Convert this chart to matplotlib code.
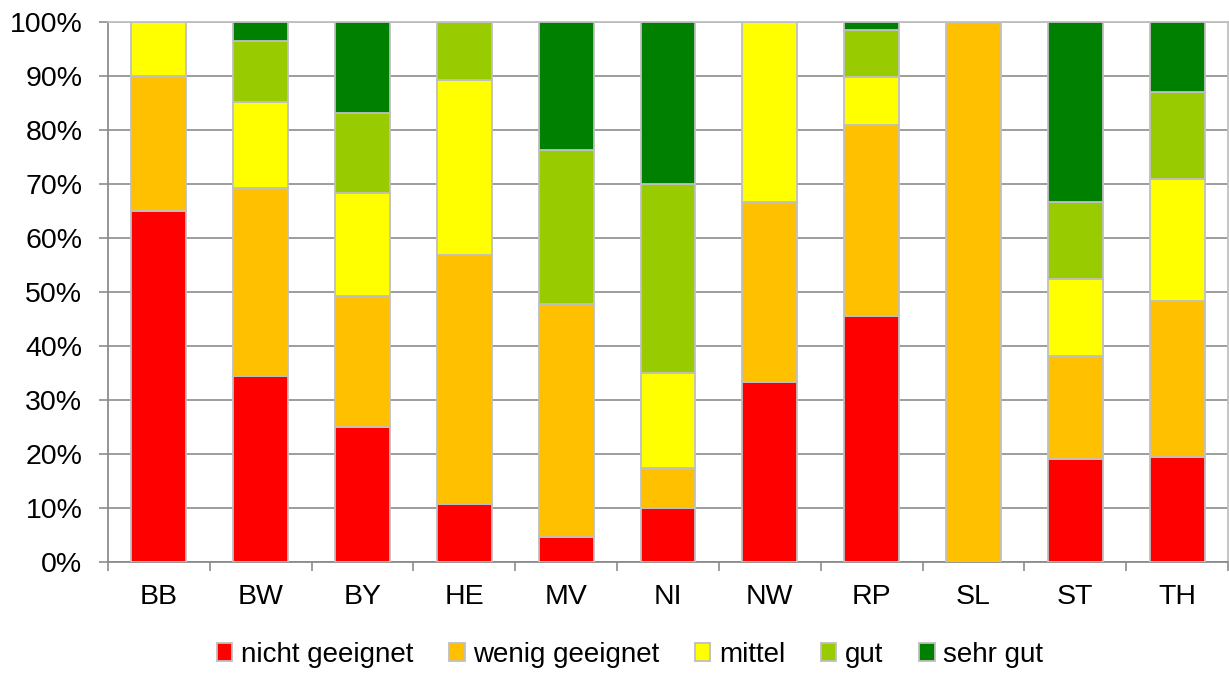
import matplotlib
matplotlib.use('Agg')
from matplotlib import pyplot as plt
from matplotlib.ticker import PercentFormatter
import numpy as np

plt.rcParams['font.family'] = ['Liberation Sans', 'DejaVu Sans']

laender = ['BB', 'BW', 'BY', 'HE', 'MV', 'NI', 'NW', 'RP', 'SL', 'ST', 'TH']
kategorien = ['nicht geeignet', 'wenig geeignet', 'mittel', 'gut', 'sehr gut']
farben = ['#FF0000', '#FFC000', '#FFFF00', '#99CC00', '#008000']

# Anteile in Prozent je Land
nicht_geeignet = [65.0, 34.5, 25.0, 10.7, 4.7, 10.0, 33.3, 45.5, 0.0, 19.0, 19.4]
wenig_geeignet = [25.0, 34.7, 24.3, 46.2, 43.0, 7.5, 33.4, 35.4, 100.0, 19.1, 29.0]
mittel = [10.0, 16.0, 19.1, 32.4, 0.0, 17.5, 33.3, 8.9, 0.0, 14.3, 22.6]
gut = [0.0, 11.3, 14.8, 10.7, 28.6, 35.0, 0.0, 8.8, 0.0, 14.3, 16.1]
sehr_gut = [0.0, 3.5, 16.8, 0.0, 23.7, 30.0, 0.0, 1.4, 0.0, 33.3, 12.9]

serien = [nicht_geeignet, wenig_geeignet, mittel, gut, sehr_gut]

fig = plt.figure(figsize=(12.29, 6.73), dpi=100)
ax = fig.add_axes([108 / 1229, 1 - 562 / 673, 1120 / 1229, 540 / 673])

x = np.arange(len(laender))
unten = np.zeros(len(laender))
for name, werte, farbe in zip(kategorien, serien, farben):
    werte = np.array(werte)
    ax.bar(x, werte, width=0.54, bottom=unten, color=farbe, edgecolor='#BFBFBF',
           linewidth=1.3, label=name, zorder=3)
    unten += werte

ax.set_xlim(-0.5, len(laender) - 0.5)
ax.set_ylim(0, 100)
ax.set_yticks(np.arange(0, 101, 10))
ax.yaxis.set_major_formatter(PercentFormatter(decimals=0))
ax.yaxis.grid(True, color='#8C8C8C', linewidth=1.2, zorder=0)
ax.set_axisbelow(True)

ax.set_xticks(x)
ax.set_xticklabels(laender)
ax.set_xticks(np.arange(-0.5, len(laender)), minor=True)
ax.tick_params(axis='x', which='major', length=0, pad=16, labelsize=20.5)
ax.tick_params(axis='x', which='minor', length=6.5, width=1.2, color='#8C8C8C', direction='out')
ax.tick_params(axis='y', length=6.5, width=1.2, color='#8C8C8C', labelsize=20.5, pad=12)

for s in ['left', 'bottom']:
    ax.spines[s].set_color('#8C8C8C')
    ax.spines[s].set_linewidth(1.3)
for s in ['top', 'right']:
    ax.spines[s].set_color('#C0C0C0')
    ax.spines[s].set_linewidth(1.3)

leg = fig.legend(loc='center', bbox_to_anchor=(630 / 1229, 1 - 655 / 673), ncol=5,
                 frameon=False, fontsize=20, handlelength=0.55, handleheight=0.6,
                 handletextpad=0.3, columnspacing=1.3)
for h in leg.legend_handles:
    h.set_edgecolor('#BFBFBF')

fig.savefig('out.png', dpi=100)
